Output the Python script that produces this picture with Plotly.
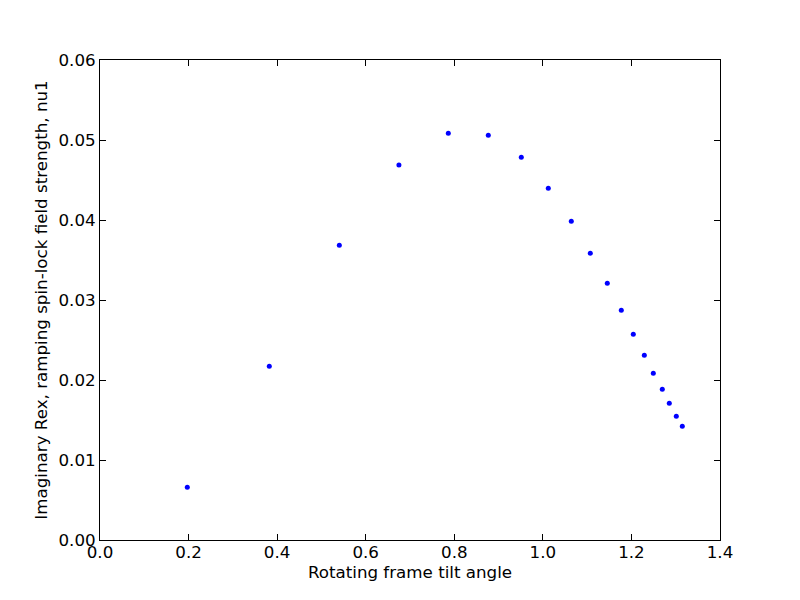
import plotly.graph_objects as go

tilt_angle = [0.1971, 0.3823, 0.5404, 0.6750, 0.7865, 0.8768, 0.9513, 1.0123,
              1.0642, 1.1071, 1.1455, 1.1771, 1.2042, 1.2291, 1.2494, 1.2697,
              1.2855, 1.3013, 1.3149]
imag_rex = [0.00659, 0.02171, 0.03684, 0.046875, 0.05084, 0.05059, 0.04784,
            0.04396, 0.03984, 0.03584, 0.03209, 0.02871, 0.02571, 0.02309,
            0.02084, 0.01884, 0.01709, 0.01546, 0.01421]

x_ticks = [0.0, 0.2, 0.4, 0.6, 0.8, 1.0, 1.2, 1.4]
y_ticks = [0.00, 0.01, 0.02, 0.03, 0.04, 0.05, 0.06]

fig = go.Figure()
fig.add_trace(go.Scatter(
    x=tilt_angle, y=imag_rex, mode="markers",
    marker=dict(color="#0000ff", size=5, line=dict(width=0)),
    showlegend=False,
))

font = dict(family="DejaVu Sans", size=16.7, color="black")
axis_common = dict(
    showgrid=False, zeroline=False, showline=True, linecolor="black",
    linewidth=1, mirror="ticks", ticks="inside", ticklen=6, tickwidth=1,
    tickcolor="black", tickfont=font,
)
fig.update_xaxes(range=[0, 1.4], tickvals=x_ticks,
                 ticktext=[f"{v:.1f}" for v in x_ticks],
                 ticklabelstandoff=-3,
                 title=dict(text="Rotating frame tilt angle", font=font, standoff=4),
                 **axis_common)
fig.update_yaxes(range=[0, 0.06], tickvals=y_ticks,
                 ticktext=[f"{v:.2f}" for v in y_ticks],
                 title=dict(text="Imaginary Rex, ramping spin-lock field strength, nu1",
                            font=font, standoff=6),
                 **axis_common)
fig.update_layout(
    width=800, height=600,
    margin=dict(l=92, r=88, t=52, b=68, autoexpand=False),
    paper_bgcolor="white", plot_bgcolor="white",
    font=font,
)
fig.write_html("out.html")
